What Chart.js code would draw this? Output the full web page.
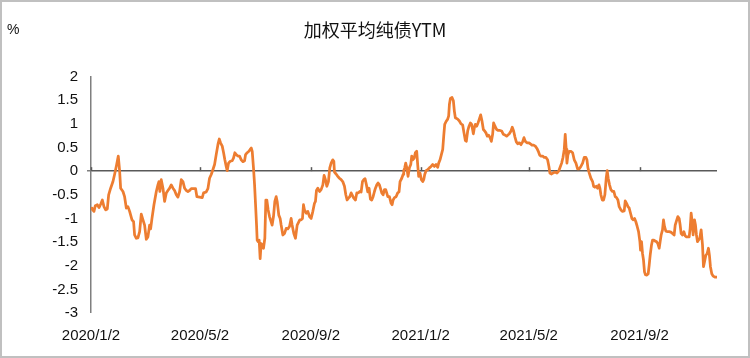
<!DOCTYPE html>
<html><head><meta charset="utf-8">
<script src="https://cdn.jsdelivr.net/npm/chart.js@4"></script>
<style>html,body{margin:0;padding:0;background:#fff}#wrap{width:750px;height:358px;position:relative}</style>
</head><body><div id="wrap"><canvas id="c" width="750" height="358"></canvas></div>
<script>
const chartTitle = '加权平均纯债YTM';
const unitLabel = '%';
const tickLabels = ['2020/1/2','2020/5/2','2020/9/2','2021/1/2','2021/5/2','2021/9/2'];
const startDate = '2020/1/2';
const lastDay = 695; // days after startDate
const yMin = -3, yMax = 2, yStep = 0.5;

// days after 2020/1/2
const days = [
0,1.1,3.3,4.8,7.0,8.9,10.7,12.6,14.4,16.3,18.1,19.6,21.8,24.4,26.3,28.5,30.3,31.8,32.9,35.5,37.3,39.2,41.0,42.9,45.5,47.3,48.4,50.3,52.1,54.0,55.8,57.7,59.5,61.4,63.2,65.1,66.2,67.7,69.9,72.5,74.3,75.4,76.5,78.0,79.9,81.7,83.6,85.4,87.3,89.1,91.0,92.8,94.7,96.5,98.4,100.2,102.1,103.9,105.8,107.6,109.4,111.3,114.3,
116.1,117.6,120.5,123.5,125.0,127.9,129.8,131.6,133.5,135.3,137.2,139.0,140.9,142.4,143.8,145.7,147.2,148.6,150.1,151.2,152.7,154.6,156.8,158.3,159.7,161.2,163.1,164.9,166.8,168.6,170.5,171.6,173.4,175.3,176.7,177.9,179.0,180.4,181.6,182.7,183.8,184.5,185.6,186.7,187.8,188.9,190.1,191.5,193.0,194.1,195.2,196.7,198.2,200.0,201.1,202.6,204.1,205.6,206.7,208.5,210.0,211.1,213.0,214.8,216.7,218.5,220.4,222.2,223.3,225.2,227.0,228.9,
231.8,233.3,234.8,235.9,237.0,238.9,240.7,242.6,244.4,246.3,248.1,249.2,250.3,251.8,253.7,255.5,257.4,258.8,260.3,261.8,263.6,265.1,266.6,268.4,269.6,270.3,272.1,274.0,275.8,277.7,279.5,281.4,282.9,284.3,285.8,287.3,288.8,289.9,291.7,293.6,295.1,296.9,298.4,299.9,301.4,302.8,304.3,305.8,307.3,308.7,310.2,311.7,313.2,314.7,315.8,317.3,318.7,320.2,321.3,322.8,324.3,325.8,327.2,328.3,329.5,331.3,333.2,334.3,335.4,336.9,338.7,340.5,342.0,343.1,345.0,346.5,
347.2,348.3,349.4,350.5,352.0,353.5,355.0,356.1,357.2,358.7,360.1,361.6,362.7,363.8,365.3,366.8,368.3,369.4,370.5,372.0,373.8,375.7,377.5,379.4,381.2,383.1,384.9,386.0,387.5,389.0,390.5,391.6,392.7,394.2,396.0,397.1,397.9,399.0,400.8,402.3,403.4,404.5,407.1,409.0,410.8,412.6,414.1,415.6,416.7,418.2,419.7,421.2,422.6,424.5,425.6,426.7,428.2,429.7,431.1,432.6,434.1,435.6,437.1,438.5,440.0,441.5,443.0,444.5,445.9,447.0,448.5,450.4,452.2,454.1,455.9,457.8,460.0,461.4,
464.4,466.3,467.7,469.2,470.7,472.2,473.7,475.5,477.4,479.2,480.7,482.2,484.0,485.9,487.7,489.6,491.4,493.3,495.1,496.6,498.1,499.6,501.4,503.2,505.1,506.9,508.4,509.5,511.0,512.9,515.1,517.3,519.2,520.6,522.5,524.0,525.4,526.5,527.6,528.4,529.5,531.0,532.8,534.7,536.5,538.4,540.2,542.1,543.9,545.8,547.6,549.5,550.6,551.7,553.2,555.0,556.9,558.0,559.4,560.9,562.4,563.9,565.0,566.1,567.6,569.1,570.5,572.0,573.1,574.2,575.7,577.2,579.0,
580.5,582.0,583.5,585.0,586.4,588.3,590.1,592.0,593.1,594.6,596.1,597.5,599.0,600.5,602.0,603.5,604.9,606.4,607.9,609.4,610.1,611.2,612.3,613.4,614.5,615.6,617.1,618.6,619.7,620.8,622.3,623.4,624.9,626.4,627.8,629.3,630.8,631.9,633.0,634.5,635.6,636.7,638.2,640.1,641.9,643.8,645.6,647.4,648.6,650.0,651.5,653.0,654.1,655.2,656.7,658.2,659.7,661.1,662.6,664.1,665.2,666.3,667.4,668.5,670.0,671.1,672.2,673.3,674.4,675.9,677.4,678.9,680.0,681.1,682.6,684.1,685.5,686.6,687.7,689.2,690.7,692.6,694.4,695
];

// weighted average pure-bond YTM change, %
const ytm = [
-0.78,-0.80,-0.85,-0.73,-0.71,-0.77,-0.70,-0.61,-0.75,-0.82,-0.80,-0.50,-0.36,-0.22,-0.06,0.14,0.32,0.00,-0.36,-0.43,-0.54,-0.78,-0.75,-0.85,-1.03,-1.07,-1.35,-1.42,-1.41,-1.28,-0.91,-1.03,-1.14,-1.44,-1.39,-1.14,-1.22,-1.00,-0.71,-0.43,-0.29,-0.22,-0.43,-0.18,-0.36,-0.64,-0.46,-0.41,-0.36,-0.29,-0.36,-0.41,-0.50,-0.55,-0.43,-0.18,-0.22,-0.36,-0.41,-0.43,-0.41,-0.37,-0.37,
-0.37,-0.54,-0.55,-0.56,-0.46,-0.44,-0.37,-0.15,-0.07,0.03,0.14,0.35,0.56,0.68,0.60,0.53,0.39,0.24,0.10,0.01,0.17,0.21,0.22,0.28,0.39,0.35,0.32,0.32,0.24,0.20,0.22,0.35,0.39,0.42,0.46,0.49,0.42,0.07,-0.29,-0.71,-1.14,-1.46,-1.49,-1.46,-1.85,-1.53,-1.56,-1.63,-1.42,-0.61,-0.61,-0.82,-0.96,-1.07,-1.14,-0.96,-0.64,-0.54,-0.64,-0.93,-1.00,-1.14,-1.35,-1.32,-1.21,-1.22,-1.17,-1.00,-1.14,-1.32,-1.42,-1.14,
-1.03,-1.03,-1.00,-0.71,-0.82,-0.89,-0.85,-0.96,-1.00,-0.85,-0.68,-0.64,-0.41,-0.36,-0.43,-0.39,-0.29,-0.09,-0.18,-0.32,-0.22,0.07,0.17,0.24,0.21,-0.02,-0.06,-0.11,-0.15,-0.18,-0.22,-0.32,-0.50,-0.61,-0.57,-0.54,-0.46,-0.50,-0.57,-0.61,-0.46,-0.46,-0.43,-0.44,-0.22,-0.18,-0.16,-0.29,-0.44,-0.36,-0.59,-0.61,-0.54,-0.43,-0.36,-0.29,-0.25,-0.29,-0.36,-0.46,-0.50,-0.39,-0.39,-0.46,-0.54,-0.54,-0.68,-0.71,-0.61,-0.56,-0.54,-0.46,-0.44,-0.22,-0.15,-0.07,
0.01,0.07,0.17,0.08,-0.11,0.07,0.14,0.32,0.24,0.27,0.39,0.42,0.14,-0.11,-0.04,-0.18,-0.22,-0.18,-0.07,0.01,0.03,0.07,0.10,0.14,0.10,0.14,0.08,0.17,0.24,0.35,0.46,0.74,0.99,1.05,1.10,1.17,1.41,1.54,1.56,1.49,1.27,1.13,1.10,1.06,1.00,0.98,0.81,0.65,0.63,0.85,0.95,1.02,0.99,0.79,0.92,0.99,0.95,1.02,1.10,1.19,1.06,0.88,0.85,0.81,0.74,0.76,0.71,0.63,0.78,1.02,0.95,0.88,0.86,0.86,0.85,0.78,0.76,0.74,
0.79,0.85,0.93,0.85,0.72,0.62,0.58,0.60,0.56,0.62,0.71,0.63,0.60,0.60,0.58,0.55,0.55,0.53,0.48,0.42,0.34,0.32,0.32,0.29,0.29,0.24,0.10,-0.04,-0.06,-0.04,-0.02,-0.04,0.00,0.07,0.17,0.29,0.46,0.78,0.46,0.17,0.35,0.42,0.42,0.39,0.24,0.17,0.05,0.05,0.10,0.17,0.29,0.29,0.24,0.07,-0.04,-0.15,-0.22,-0.32,-0.34,-0.32,-0.36,-0.29,-0.36,-0.50,-0.61,-0.61,-0.50,-0.15,0.01,-0.15,-0.29,-0.39,-0.43,
-0.43,-0.54,-0.56,-0.61,-0.75,-0.82,-0.85,-0.84,-0.63,-0.68,-0.75,-0.78,-0.89,-1.00,-1.03,-1.00,-1.07,-1.17,-1.28,-1.49,-1.67,-1.49,-1.74,-1.88,-2.13,-2.19,-2.20,-2.17,-1.99,-1.78,-1.56,-1.46,-1.46,-1.48,-1.49,-1.53,-1.63,-1.49,-1.35,-1.24,-1.03,-1.17,-1.27,-1.28,-1.28,-1.29,-1.32,-1.35,-1.14,-1.05,-0.96,-1.00,-1.14,-1.32,-1.35,-1.28,-1.37,-1.39,-1.39,-1.39,-1.21,-0.89,-1.07,-1.35,-1.03,-1.14,-1.35,-1.49,-1.46,-1.42,-1.24,-1.56,-2.02,-1.92,-1.78,-1.74,-1.63,-1.78,-2.02,-2.17,-2.22,-2.24,-2.24,-2.24
];

function dayOf(s){const [y,m,d]=s.split('/').map(Number);const [by,bm,bd]=startDate.split('/').map(Number);return Math.round((Date.UTC(y,m-1,d)-Date.UTC(by,bm-1,bd))/86400000);}
const tickDays = tickLabels.map(dayOf);
const points = days.map((d,i)=>({x:d,y:ytm[i]}));

const AXIS = '#7f7f7f', TEXT = '#111';
const decor = {
  id:'decor',
  afterLayout(chart){
    const t = chart.titleBlock;
    if (t) { t.left = 0; t.right = chart.width; t.width = chart.width; }
  },
  beforeDatasetsDraw(chart){
    const {ctx} = chart, xs = chart.scales.x, ys = chart.scales.y;
    const y0 = ys.getPixelForValue(0);
    ctx.save();
    ctx.strokeStyle = '#595959'; ctx.lineWidth = 1.5;
    tickDays.forEach(d=>{const x = Math.round(xs.getPixelForValue(d))+0.5;ctx.beginPath();ctx.moveTo(x,y0);ctx.lineTo(x,y0-4);ctx.stroke();});
    ctx.restore();
  },
  afterDraw(chart){
    const {ctx} = chart;
    ctx.save();
    ctx.fillStyle = TEXT; ctx.font = '14px "Liberation Sans"'; ctx.textBaseline = 'middle'; ctx.textAlign = 'left';
    ctx.fillText(unitLabel, 7, 30);
    ctx.strokeStyle = '#c0c0c0'; ctx.lineWidth = 2;
    ctx.strokeRect(1,1,748,356);
    ctx.restore();
  }
};

new Chart(document.getElementById('c'), {
  type:'line',
  data:{datasets:[{data:points, borderColor:'#ED7D31', borderWidth:2.75, pointRadius:0, tension:0, fill:false, borderJoinStyle:'round'}]},
  options:{
    responsive:false, animation:false, devicePixelRatio:1,
    layout:{padding:{left:0,right:33,top:0,bottom:0}},
    plugins:{
      legend:{display:false}, tooltip:{enabled:false},
      title:{display:true,text:chartTitle,color:TEXT,font:{family:'"Noto Sans CJK SC"',size:18,weight:'normal'},padding:{top:19,bottom:36}}
    },
    scales:{
      x:{type:'linear',min:0,max:lastDay,
        afterBuildTicks:s=>{s.ticks = tickDays.map(v=>({value:v}));},
        ticks:{autoSkip:false,maxRotation:0,minRotation:0,color:TEXT,font:{family:'"Liberation Sans"',size:15},padding:6,
          callback:(v)=>{const i = tickDays.indexOf(v);return i>=0?tickLabels[i]:'';}},
        grid:{display:false}, border:{display:false},
        afterFit:s=>{s.height=45;}
      },
      y:{min:yMin,max:yMax,
        ticks:{stepSize:yStep,color:TEXT,font:{family:'"Liberation Sans"',size:15},padding:9,
          callback:v=>String(Math.round(v*10)/10)},
        grid:{color:c=>c.tick && c.tick.value===0?'#595959':'rgba(0,0,0,0)',lineWidth:c=>c.tick && c.tick.value===0?1.5:0,tickColor:AXIS,tickLength:4,drawTicks:true},
        border:{display:true,color:AXIS,width:1.5},
        afterFit:s=>{s.width=91;}
      }
    }
  },
  plugins:[decor]
});
</script>
</body></html>
